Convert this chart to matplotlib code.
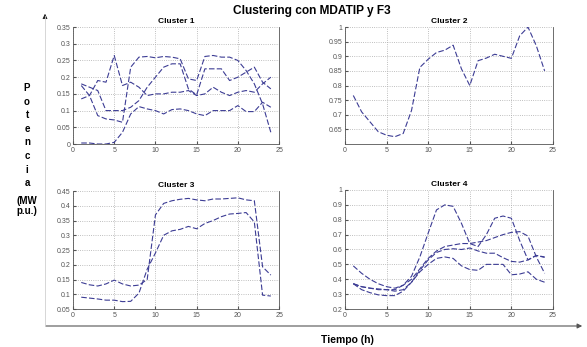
import numpy as np
import matplotlib
matplotlib.use('Agg')
import matplotlib.pyplot as plt

plt.rcParams['font.family'] = ['Liberation Sans', 'DejaVu Sans']

hours = list(range(1, 25))

# Cluster 1 (four profiles)
c1_a = [0.135, 0.145, 0.19, 0.185, 0.265, 0.175, 0.185, 0.17, 0.145, 0.15, 0.15, 0.155,
        0.155, 0.16, 0.145, 0.15, 0.17, 0.155, 0.145, 0.155, 0.16, 0.155, 0.18, 0.2]
c1_b = [0.18, 0.17, 0.16, 0.1, 0.1, 0.1, 0.11, 0.13, 0.17, 0.2, 0.23, 0.24,
        0.24, 0.165, 0.147, 0.225, 0.225, 0.225, 0.19, 0.2, 0.215, 0.23, 0.185, 0.165]
c1_c = [0.175, 0.145, 0.085, 0.075, 0.072, 0.065, 0.23, 0.26, 0.262, 0.258, 0.262, 0.26,
        0.255, 0.195, 0.19, 0.262, 0.265, 0.26, 0.26, 0.25, 0.22, 0.18, 0.12, 0.035]
c1_d = [0.003, 0.003, 0.0, 0.0, 0.005, 0.035, 0.09, 0.112, 0.105, 0.1, 0.09, 0.103,
        0.105, 0.1, 0.09, 0.085, 0.1, 0.1, 0.1, 0.115, 0.097, 0.097, 0.125, 0.11]

# Cluster 2 (one profile)
c2_a = [0.766, 0.71, 0.676, 0.642, 0.63, 0.625, 0.636, 0.715, 0.862, 0.89, 0.913, 0.921,
        0.938, 0.857, 0.80, 0.885, 0.894, 0.907, 0.90, 0.893, 0.97, 1.0, 0.936, 0.85]

# Cluster 3 (two profiles)
c3_a = [0.14, 0.132, 0.128, 0.135, 0.148, 0.135, 0.128, 0.131, 0.15, 0.369, 0.408, 0.417,
        0.422, 0.425, 0.42, 0.417, 0.423, 0.423, 0.425, 0.427, 0.42, 0.417, 0.193, 0.165]
c3_b = [0.09, 0.087, 0.084, 0.08, 0.08, 0.075, 0.076, 0.104, 0.185, 0.24, 0.3, 0.315,
        0.32, 0.33, 0.322, 0.34, 0.35, 0.363, 0.372, 0.374, 0.377, 0.345, 0.097, 0.094]

# Cluster 4 (four profiles)
c4_a = [0.37, 0.35, 0.34, 0.335, 0.33, 0.33, 0.36, 0.42, 0.55, 0.71, 0.866, 0.9,
        0.89, 0.776, 0.64, 0.62, 0.70, 0.81, 0.825, 0.81, 0.66, 0.53, 0.56, 0.547]
c4_b = [0.49, 0.44, 0.4, 0.37, 0.35, 0.34, 0.36, 0.4, 0.47, 0.54, 0.59, 0.62,
        0.63, 0.64, 0.64, 0.65, 0.66, 0.68, 0.7, 0.715, 0.72, 0.69, 0.55, 0.44]
c4_c = [0.37, 0.35, 0.34, 0.33, 0.33, 0.32, 0.33, 0.38, 0.46, 0.53, 0.58, 0.6,
        0.605, 0.6, 0.61, 0.59, 0.575, 0.575, 0.545, 0.52, 0.515, 0.53, 0.56, 0.55]
c4_d = [0.37, 0.33, 0.31, 0.295, 0.29, 0.29, 0.32, 0.38, 0.45, 0.5, 0.54, 0.55,
        0.54, 0.49, 0.465, 0.46, 0.5, 0.5, 0.5, 0.43, 0.435, 0.45, 0.4, 0.38]

clusters = [
    ('Cluster 1', [c1_a, c1_b, c1_c, c1_d], (0, 0.35), np.arange(0, 0.351, 0.05),
     ['0', '0.05', '0.1', '0.15', '0.2', '0.25', '0.3', '0.35']),
    ('Cluster 2', [c2_a], (0.6, 1.0), np.arange(0.65, 1.001, 0.05),
     ['0.65', '0.7', '0.75', '0.8', '0.85', '0.9', '0.95', '1']),
    ('Cluster 3', [c3_a, c3_b], (0.05, 0.45), np.arange(0.05, 0.451, 0.05),
     ['0.05', '0.1', '0.15', '0.2', '0.25', '0.3', '0.35', '0.4', '0.45']),
    ('Cluster 4', [c4_a, c4_b, c4_c, c4_d], (0.2, 1.0), np.arange(0.2, 1.001, 0.1),
     ['0.2', '0.3', '0.4', '0.5', '0.6', '0.7', '0.8', '0.9', '1']),
]

positions = [
    [0.1244, 0.585, 0.351, 0.337],
    [0.5877, 0.585, 0.3543, 0.337],
    [0.1244, 0.1095, 0.351, 0.340],
    [0.5877, 0.1095, 0.3543, 0.343],
]

line_color = '#3c3c94'

fig = plt.figure(figsize=(5.87, 3.47), dpi=100)

for (title, series, ylim, yticks, ylabels), pos in zip(clusters, positions):
    ax = fig.add_axes(pos)
    for s in series:
        ax.plot(hours, s, color=line_color, lw=0.8, ls=(0, (5, 2)))
    ax.set_xlim(0, 25)
    ax.set_ylim(*ylim)
    ax.set_xticks([0, 5, 10, 15, 20, 25])
    ax.set_yticks(yticks)
    ax.set_yticklabels(ylabels)
    ax.tick_params(direction='in', length=2, labelsize=5, colors='#555555', pad=2)
    ax.grid(True, ls=':', color='#aaaaaa', lw=0.6)
    ax.set_title(title, fontsize=6, fontweight='bold', pad=3)
    for side in ['left', 'right', 'bottom']:
        ax.spines[side].set_color('#555555')
        ax.spines[side].set_linewidth(0.6)
    ax.spines['top'].set_visible(False)

fig.text(0.532, 0.968, 'Clustering con MDATIP y F3', ha='center', va='center',
         fontsize=8.6, fontweight='bold')

# vertical stacked y label
for i, ch in enumerate('Potencia'):
    fig.text(27 / 587, 1 - (88 + i * 13.6) / 347, ch, ha='center', va='center',
             fontsize=7, fontweight='bold')
fig.text(27 / 587, 1 - 206 / 347, '(MW\np.u.)', ha='center', va='center',
         fontsize=7, fontweight='bold', linespacing=1.0)

fig.text(347 / 587, 1 - 340 / 347, 'Tiempo (h)', ha='center', va='center',
         fontsize=7.5, fontweight='bold')

# axis arrows
fig.add_artist(matplotlib.patches.FancyArrowPatch(
    (43 / 587, 1 - 326 / 347), (585 / 587, 1 - 326 / 347), transform=fig.transFigure,
    arrowstyle='-|>', mutation_scale=7, color='#555555', lw=0.8))
fig.add_artist(matplotlib.lines.Line2D(
    [45 / 587, 45 / 587], [1 - 326 / 347, 1 - 16 / 347], transform=fig.transFigure,
    color='#d0d0d0', lw=0.6))
fig.add_artist(matplotlib.patches.FancyArrowPatch(
    (45 / 587, 1 - 20 / 347), (45 / 587, 1 - 11 / 347), transform=fig.transFigure,
    arrowstyle='-|>', mutation_scale=7, color='#222222', lw=0.6))

fig.savefig('out.png', dpi=100)
